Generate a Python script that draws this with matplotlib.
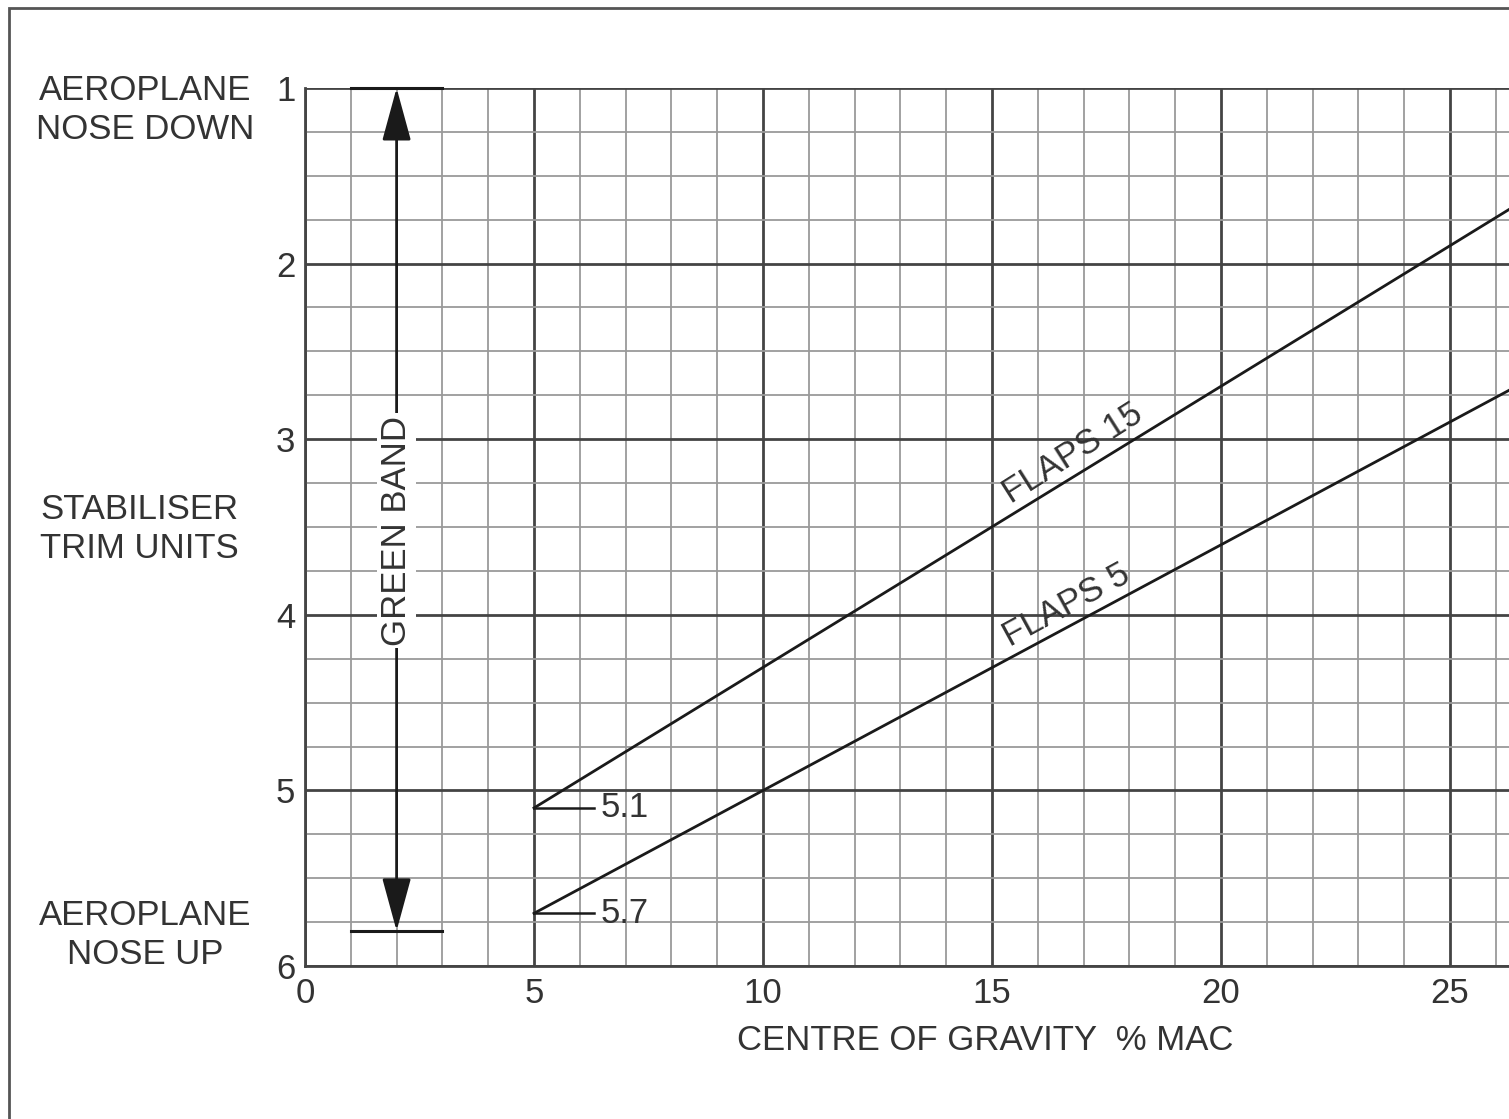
import matplotlib.pyplot as plt
from matplotlib.patches import Rectangle

plt.rcParams['font.family'] = ['Liberation Sans', 'DejaVu Sans']

# CG % MAC vs stabiliser trim units
flaps15_cg = [5, 26.3]
flaps15_trim = [5.1, 1.69]
flaps5_cg = [5, 26.3]
flaps5_trim = [5.7, 2.72]

x_ticks = [0, 5, 10, 15, 20, 25]
y_ticks = [1, 2, 3, 4, 5, 6]
green_band = [1.0, 5.8]

TXT = '#333333'
FS = 25

fig = plt.figure(figsize=(15.09, 11.19), dpi=100)
fig.patches.append(Rectangle((9 / 1509, -0.05), 1.2, 1.05 - 8 / 1119,
                             transform=fig.transFigure, fill=False,
                             edgecolor='#555555', linewidth=2))

ax = fig.add_axes([305 / 1509, (1119 - 966) / 1119, 1204 / 1509, 878 / 1119])
ax.set_xlim(0, (1509 - 305) / 45.8)
ax.set_ylim(6, 1)

# grid
for x in range(0, 27):
    major = x % 5 == 0
    ax.axvline(x, color='#444444' if major else '#9a9a9a',
               lw=2.0 if major else 1.3, zorder=1)
for i in range(0, 21):
    y = 1 + i * 0.25
    major = i % 4 == 0
    ax.axhline(y, color='#444444' if major else '#9a9a9a',
               lw=2.0 if major else 1.3, zorder=1)

for s in ax.spines.values():
    s.set_visible(False)
for side in ['left', 'bottom']:
    ax.spines[side].set_visible(True)
    ax.spines[side].set_linewidth(2)
    ax.spines[side].set_color('#444444')

ax.set_xticks(x_ticks)
ax.set_yticks(y_ticks)
ax.tick_params(length=0, labelsize=FS, labelcolor=TXT)
ax.tick_params(axis='y', pad=7)
ax.tick_params(axis='x', pad=8)

# data lines
ax.plot(flaps15_cg, flaps15_trim, color='#1a1a1a', lw=2, zorder=3)
ax.plot(flaps5_cg, flaps5_trim, color='#1a1a1a', lw=2, zorder=3)

# start value labels
for v in [5.1, 5.7]:
    ax.plot([5, 6.3], [v, v], color='#1a1a1a', lw=1.8, zorder=3)
    ax.text(6.45, v, f'{v}', fontsize=FS, color=TXT, va='center', ha='left', zorder=4)

ax.text(16.95, 3.16, 'FLAPS 15', fontsize=FS, color=TXT, rotation=32.4,
        rotation_mode='anchor', ha='center', va='bottom', zorder=4)
ax.text(16.8, 4.03, 'FLAPS 5', fontsize=FS, color=TXT, rotation=28.6,
        rotation_mode='anchor', ha='center', va='bottom', zorder=4)

# green band
for v in green_band:
    ax.plot([1, 3], [v, v], color='#1a1a1a', lw=2.2, zorder=3, clip_on=False)
for end in green_band:
    ax.annotate('', xy=(2, end), xytext=(2, 3.5),
                arrowprops=dict(arrowstyle='-|>,head_length=3.3,head_width=0.9',
                                color='#1a1a1a', lw=2, shrinkA=0, shrinkB=0),
                zorder=3, annotation_clip=False)
ax.text(2, 3.52, 'GREEN BAND', fontsize=FS, color=TXT, rotation=90,
        ha='center', va='center', zorder=5,
        bbox=dict(facecolor='white', edgecolor='none', pad=2))

# side captions
fig.text(145 / 1509, 1 - 110 / 1119, 'AEROPLANE\nNOSE DOWN', fontsize=FS, color=TXT,
         ha='center', va='center', multialignment='center', linespacing=1.25)
fig.text(40 / 1509, 1 - 529 / 1119, 'STABILISER\nTRIM UNITS', fontsize=FS, color=TXT,
         ha='left', va='center', multialignment='left', linespacing=1.25)
fig.text(145 / 1509, 1 - 935 / 1119, 'AEROPLANE\nNOSE UP', fontsize=FS, color=TXT,
         ha='center', va='center', multialignment='center', linespacing=1.25)
fig.text(985 / 1509, 1 - 1040 / 1119, 'CENTRE OF GRAVITY  % MAC', fontsize=FS,
         color=TXT, ha='center', va='center')

fig.savefig('out.png', dpi=100, facecolor='white')
